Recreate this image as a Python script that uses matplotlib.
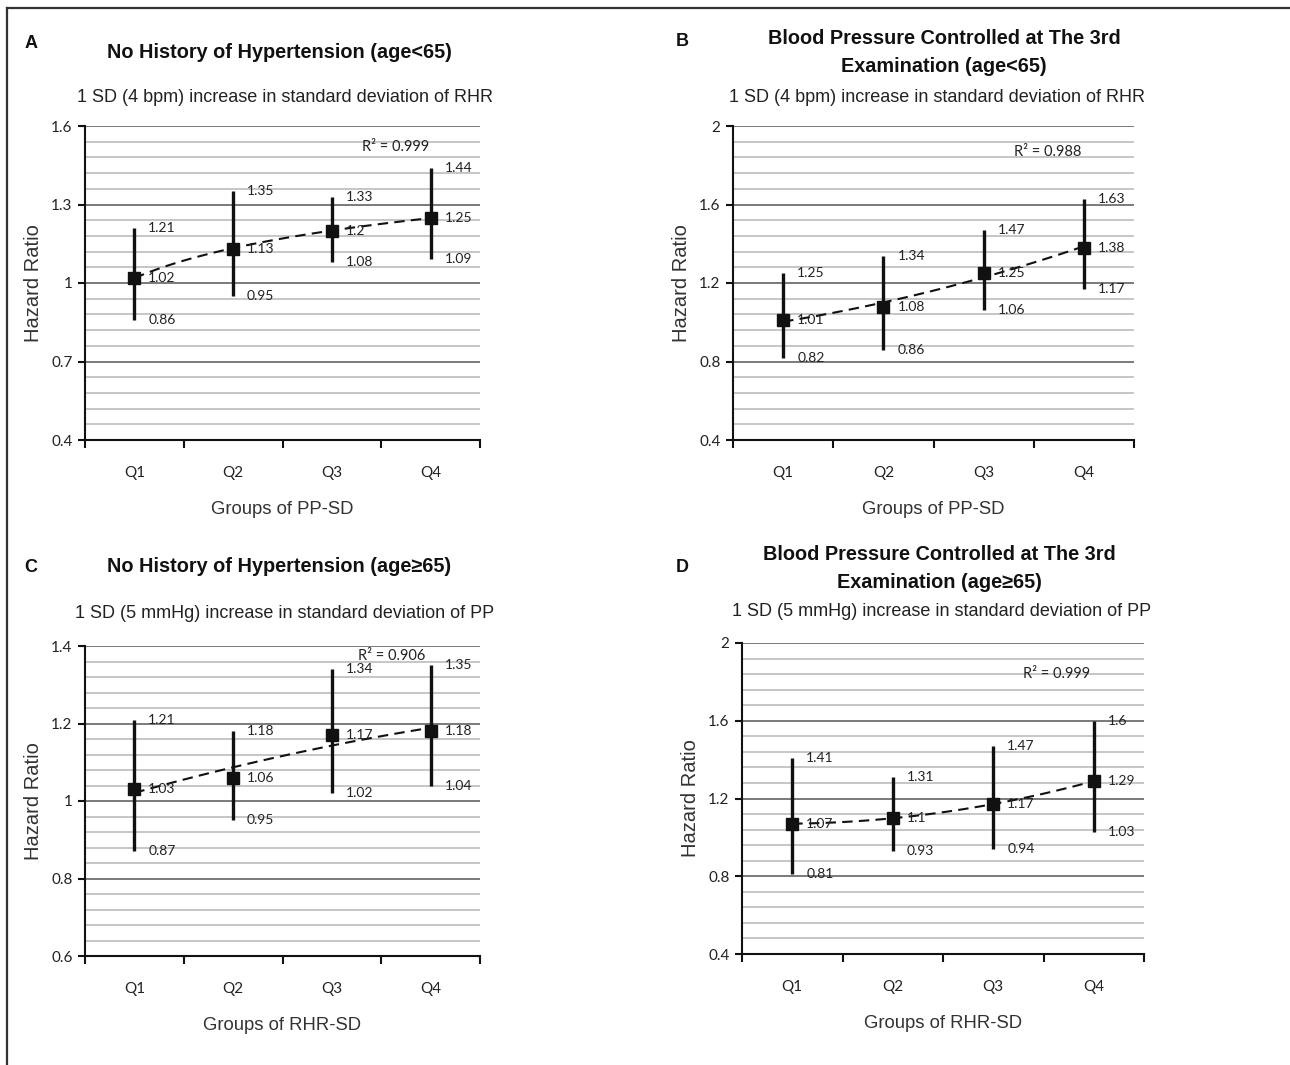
import numpy as np
import matplotlib
matplotlib.use("Agg")
import matplotlib.pyplot as plt
from matplotlib.lines import Line2D
from matplotlib.ticker import FixedLocator

W, H = 1290, 1065

groups = ["Q1", "Q2", "Q3", "Q4"]

# panel A: no history of hypertension, age<65
hr_a = [1.02, 1.13, 1.2, 1.25]
lo_a = [0.86, 0.95, 1.08, 1.09]
hi_a = [1.21, 1.35, 1.33, 1.44]
# panel B: BP controlled at 3rd exam, age<65
hr_b = [1.01, 1.08, 1.25, 1.38]
lo_b = [0.82, 0.86, 1.06, 1.17]
hi_b = [1.25, 1.34, 1.47, 1.63]
# panel C: no history of hypertension, age>=65
hr_c = [1.03, 1.06, 1.17, 1.18]
lo_c = [0.87, 0.95, 1.02, 1.04]
hi_c = [1.21, 1.18, 1.34, 1.35]
# panel D: BP controlled at 3rd exam, age>=65
hr_d = [1.07, 1.1, 1.17, 1.29]
lo_d = [0.81, 0.93, 0.94, 1.03]
hi_d = [1.41, 1.31, 1.47, 1.6]

r2_text = ["0.999", "0.988", "0.906", "0.999"]

SANS = ["Liberation Sans", "DejaVu Sans"]
LBL = ["Lato", "DejaVu Sans"]


def px(x, y):
    return x / W, 1 - y / H


def rect(x0, y0, x1, y1):
    return [x0 / W, 1 - y1 / H, (x1 - x0) / W, (y1 - y0) / H]


def panel(fig, box, hr, lo, hi, ylim, major, minor, fit, r2, r2pos, xlab):
    ax = fig.add_axes(rect(*box))
    x = np.arange(1, len(groups) + 1)
    hr, lo, hi = np.array(hr), np.array(lo), np.array(hi)

    ax.set_xlim(0.5, len(groups) + 0.5)

    # gridlines (Excel style, starting at axis minimum)
    yt = np.round(np.arange(ylim[0], ylim[1] + 1e-9, major), 4)
    ym = np.round(np.arange(ylim[0], ylim[1] + 1e-9, minor), 4)
    ax.yaxis.set_major_locator(FixedLocator(yt))
    ax.yaxis.set_minor_locator(FixedLocator(ym))
    ax.grid(True, axis="y", which="minor", color="#c6c6c6", lw=1.4, zorder=0)
    ax.grid(True, axis="y", which="major", color="#7a7a7a", lw=1.4, zorder=0)
    ax.set_axisbelow(True)

    # error bars + markers
    ax.vlines(x, lo, hi, color="#111111", lw=2.4, zorder=3)
    # trendline like Excel
    xs = np.linspace(1, len(groups), 100)
    if fit == "log":
        c = np.polyfit(np.log(x), hr, 1)
        ys = np.polyval(c, np.log(xs))
    else:
        c = np.polyfit(x, hr, 2)
        ys = np.polyval(c, xs)
    ax.plot(xs, ys, color="#111111", lw=1.5, ls=(0, (5, 3)), zorder=4)
    ax.plot(x, hr, "s", color="#111111", ms=8.5, zorder=5)

    for arr in (hi, hr, lo):
        for xi, v in zip(x, arr):
            ax.text(xi + 0.14, v, f"{v:g}", ha="left", va="center", fontsize=10,
                    family=LBL, color="#222222", zorder=6)

    ax.text(r2pos[0], r2pos[1], f"R² = {r2}", transform=ax.transAxes,
            ha="left", va="center", fontsize=10.5, family=LBL, color="#222222")

    # axes styling
    for s in ["top", "right"]:
        ax.spines[s].set_visible(False)
    for s in ["left", "bottom"]:
        ax.spines[s].set_color("#111111")
        ax.spines[s].set_linewidth(1.5)
    ax.set_xticks(x)
    ax.set_xticklabels(groups, family=LBL, fontsize=11, color="#222222")
    ax.xaxis.set_minor_locator(FixedLocator(np.arange(0.5, len(groups) + 1, 1)))
    ax.tick_params(axis="x", which="major", length=0, pad=19)
    ax.tick_params(axis="x", which="minor", length=6, width=1.5, direction="out", color="#111111")
    ax.tick_params(axis="y", which="major", length=5, width=1.5, direction="out",
                   color="#111111", pad=4)
    ax.tick_params(axis="y", which="minor", length=0)
    ax.set_yticklabels([f"{t:g}" for t in yt], family=LBL, fontsize=11, color="#222222")
    ax.set_ylim(*ylim)

    ax.set_xlabel(xlab, family=SANS, fontsize=13.3, color="#333333", labelpad=15)
    ax.set_ylabel("Hazard Ratio", family=SANS, fontsize=14.5, color="#333333", labelpad=6)
    return ax


fig = plt.figure(figsize=(W / 100, H / 100), dpi=100)

panel(fig, (85, 126, 480, 440), hr_a, lo_a, hi_a, (0.4, 1.6), 0.3, 0.06, "log",
      r2_text[0], (0.70, 0.933), "Groups of PP-SD")
panel(fig, (733, 126, 1134, 440), hr_b, lo_b, hi_b, (0.4, 2.0), 0.4, 0.08, "poly",
      r2_text[1], (0.70, 0.917), "Groups of PP-SD")
panel(fig, (85, 646, 480, 956), hr_c, lo_c, hi_c, (0.6, 1.4), 0.2, 0.04, "poly",
      r2_text[2], (0.69, 0.968), "Groups of RHR-SD")
panel(fig, (742, 643, 1144, 954), hr_d, lo_d, hi_d, (0.4, 2.0), 0.4, 0.08, "poly",
      r2_text[3], (0.70, 0.90), "Groups of RHR-SD")

# titles and panel letters
tkw = dict(ha="center", va="center", fontsize=14.3, fontweight="bold", family=SANS, color="#111111")
skw = dict(ha="center", va="center", fontsize=13, family=SANS, color="#222222")
lkw = dict(ha="center", va="center", fontsize=13, fontweight="bold", family=SANS, color="#111111")

fig.text(*px(279, 53), "No History of Hypertension (age<65)", **tkw)
fig.text(*px(285, 98), "1 SD (4 bpm) increase in standard deviation of RHR", **skw)
fig.text(*px(31, 43), "A", **lkw)

fig.text(*px(944, 38), "Blood Pressure Controlled at The 3rd", **tkw)
fig.text(*px(944, 67), "Examination (age<65)", **tkw)
fig.text(*px(937, 98), "1 SD (4 bpm) increase in standard deviation of RHR", **skw)
fig.text(*px(682, 42), "B", **lkw)

fig.text(*px(279, 567), "No History of Hypertension (age≥65)", **tkw)
fig.text(*px(285, 613), "1 SD (5 mmHg) increase in standard deviation of PP", **skw)
fig.text(*px(31, 567), "C", **lkw)

fig.text(*px(939, 555), "Blood Pressure Controlled at The 3rd", **tkw)
fig.text(*px(939, 583), "Examination (age≥65)", **tkw)
fig.text(*px(942, 612), "1 SD (5 mmHg) increase in standard deviation of PP", **skw)
fig.text(*px(682, 567), "D", **lkw)

# outer frame (top and left only)
fig.add_artist(Line2D([7 / W, 7 / W], [0, 1 - 8 / H], transform=fig.transFigure, color="#333333", lw=1.6))
fig.add_artist(Line2D([7 / W, 1], [1 - 8 / H, 1 - 8 / H], transform=fig.transFigure, color="#333333", lw=1.6))

fig.savefig("out.png", dpi=100, facecolor="white")
